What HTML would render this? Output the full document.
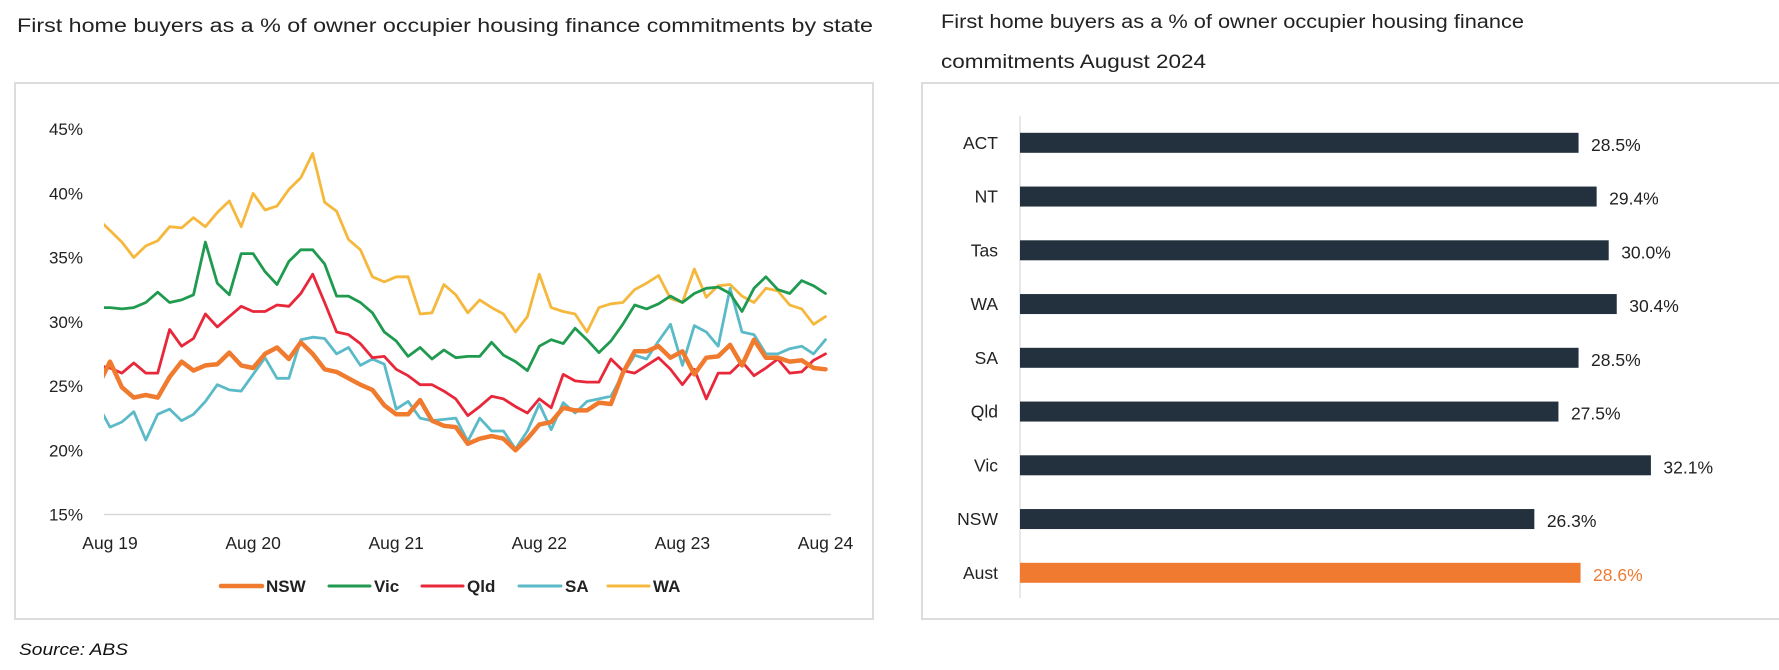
<!DOCTYPE html>
<html><head><meta charset="utf-8"><style>
html,body{margin:0;padding:0;background:#fff;}
svg{display:block;font-family:"Liberation Sans",sans-serif;}
</style></head><body>
<svg id="svg" width="1779" height="670" viewBox="0 0 1779 670">
<text x="17" y="32" font-size="19" fill="#222" textLength="856" lengthAdjust="spacingAndGlyphs">First home buyers as a % of owner occupier housing finance commitments by state</text>
<rect x="15" y="83" width="858" height="536" fill="none" stroke="#dcdcdc" stroke-width="2"/>
<g id="lc"></g>
<text x="19" y="655" font-size="17" font-style="italic" fill="#111" textLength="109" lengthAdjust="spacingAndGlyphs">Source: ABS</text>
<text x="941" y="28" font-size="19" fill="#222" textLength="583" lengthAdjust="spacingAndGlyphs">First home buyers as a % of owner occupier housing finance</text>
<text x="941" y="68" font-size="19" fill="#222" textLength="265" lengthAdjust="spacingAndGlyphs">commitments August 2024</text>
<rect x="922" y="83" width="860" height="536" fill="none" stroke="#dcdcdc" stroke-width="2"/>
<g id="bc"></g>
</svg>
<script>
const months = ["Jul 19"].concat(Array.from({length:61},(_, i)=>"m"+i));
const xTickLabels = ["Aug 19","Aug 20","Aug 21","Aug 22","Aug 23","Aug 24"];
const yTicks = [15,20,25,30,35,40,45];
const nswValues = [25.0,26.9,24.9,24.1,24.3,24.1,25.7,26.9,26.2,26.6,26.7,27.6,26.6,26.4,27.5,28.0,27.1,28.4,27.5,26.3,26.1,25.6,25.1,24.7,23.5,22.8,22.8,23.9,22.3,21.9,21.8,20.5,20.9,21.1,20.9,20.0,20.9,22.0,22.2,23.3,23.1,23.1,23.7,23.6,26.0,27.7,27.7,28.1,27.2,27.7,25.9,27.2,27.3,28.2,26.6,28.6,27.2,27.2,26.9,27.0,26.4,26.3];
const vicValues = [31.1,31.1,31.0,31.1,31.5,32.3,31.5,31.7,32.1,36.2,33.0,32.1,35.3,35.3,33.9,32.9,34.7,35.6,35.6,34.5,32.0,32.0,31.5,30.7,29.2,28.5,27.3,28.0,27.1,27.8,27.2,27.3,27.3,28.4,27.4,26.9,26.2,28.1,28.6,28.3,29.5,28.6,27.6,28.5,29.8,31.3,31.0,31.4,32.0,31.5,32.2,32.6,32.7,32.2,30.8,32.6,33.5,32.5,32.2,33.2,32.8,32.2];
const qldValues = [26.6,26.4,26.0,26.8,26.0,26.0,29.4,28.1,28.7,30.6,29.6,30.4,31.2,30.8,30.8,31.3,31.2,32.2,33.7,31.5,29.2,29.0,28.3,27.2,27.3,26.3,25.8,25.1,25.1,24.6,24.0,22.7,23.4,24.2,24.0,23.4,22.9,24.0,23.3,25.9,25.4,25.3,25.3,27.1,26.2,26.0,26.6,27.2,26.3,25.1,26.3,24.0,26.0,26.0,26.9,25.8,26.4,27.1,26.0,26.1,27.0,27.5];
const saValues = [23.5,21.8,22.2,23.0,20.8,22.8,23.2,22.3,22.8,23.8,25.1,24.7,24.6,25.9,27.2,25.6,25.6,28.6,28.8,28.7,27.5,28.0,26.6,27.1,26.7,23.2,23.8,22.5,22.3,22.4,22.5,20.7,22.5,21.5,21.5,20.1,21.5,23.6,21.6,23.7,22.9,23.8,24.0,24.2,25.9,27.4,27.1,28.5,29.8,26.6,29.7,29.2,28.1,32.6,29.2,29.0,27.5,27.5,27.9,28.1,27.5,28.6];
const waValues = [38.0,37.1,36.2,35.0,35.9,36.3,37.4,37.3,38.1,37.4,38.5,39.4,37.4,40.0,38.7,39.0,40.3,41.2,43.1,39.3,38.6,36.4,35.6,33.5,33.1,33.5,33.5,30.6,30.7,32.9,32.1,30.7,31.7,31.1,30.6,29.2,30.4,33.7,31.1,30.8,30.6,29.2,31.1,31.4,31.5,32.5,33.0,33.6,31.8,31.5,34.1,31.9,32.8,32.9,32.0,31.5,32.6,32.4,31.3,31.0,29.8,30.4];
const seriesNames = ["NSW","Vic","Qld","SA","WA"];
const seriesColors = ["#f07b2f","#1f9a4f","#e8283a","#5bbac8","#f5b83d"];
const seriesWidths = [4.5,2.8,2.8,2.8,2.8];
const allSeries = [nswValues,vicValues,qldValues,saValues,waValues];

const barCategories = ["ACT","NT","Tas","WA","SA","Qld","Vic","NSW","Aust"];
const barValues = [28.5,29.4,30.0,30.4,28.5,27.5,32.1,26.3,28.6];
const barLabels = ["28.5%","29.4%","30.0%","30.4%","28.5%","27.5%","32.1%","26.3%","28.6%"];

const NS="http://www.w3.org/2000/svg";
function mk(tag, attrs, parent){const e=document.createElementNS(NS,tag);for(const k in attrs)e.setAttribute(k,attrs[k]);parent.appendChild(e);return e;}

// line chart
const lc=document.getElementById('lc');
const x0=110, dx=(825.5-110)/60;
const xS=i=>x0+(i-1)*dx; // index 0 = Jul 19
const yS=v=>514.5-(v-15)*(385.5/30);
const base=mk('line',{x1:104,x2:831,y1:yS(15),y2:yS(15),stroke:'#d9d9d9','stroke-width':1.5},lc);


yTicks.forEach(t=>{
  const e=mk('text',{x:83,y:yS(t)+6,'text-anchor':'end','font-size':17,fill:'#222'},lc);
  e.textContent=t+'%';
  
  
});
xTickLabels.forEach((t,k)=>{
  const e=mk('text',{x:xS(1+k*12),y:549,'text-anchor':'middle','font-size':17.5,fill:'#222'},lc);
  e.textContent=t;
  
  
});
const defs=mk('defs',{},lc);
const cp=mk('clipPath',{id:'pc'},defs);
mk('rect',{x:104,y:90,width:730,height:440},cp);
const g=mk('g',{'clip-path':'url(#pc)'},lc);


[4,3,2,1,0].forEach(s=>{
  const d=allSeries[s].map((v,i)=>(i?'L':'M')+xS(i).toFixed(1)+','+yS(v).toFixed(1)).join('');
  const p=mk('path',{d:d,fill:'none',stroke:seriesColors[s],'stroke-width':seriesWidths[s],'stroke-linejoin':'round','stroke-linecap':'round'},g);
  
  
});
const legX=[[221,262,266],[329,370,374],[422,463,467],[519,561,565],[608,649,653]];
seriesNames.forEach((n,s)=>{
  const lg=mk('g',{},lc);
  
  
  mk('line',{x1:legX[s][0],x2:legX[s][1],y1:586,y2:586,stroke:seriesColors[s],'stroke-width':s==0?4.5:3,'stroke-linecap':'round'},lg);
  const t=mk('text',{x:legX[s][2],y:592,'font-size':17,'font-weight':'bold',fill:'#222'},lg);
  t.textContent=n;
});

// bar chart
const bc=document.getElementById('bc');
const bx=v=>1005.7+v*20.1;
const by=i=>142.8+i*53.75;
const ax=mk('line',{x1:1020,x2:1020,y1:116,y2:598,stroke:'#d9d9d9','stroke-width':1.2},bc);


barCategories.forEach((c,i)=>{
  const aus=c==='Aust';
  const r=mk('rect',{x:1020,y:by(i)-10,width:bx(barValues[i])-1020,height:20,fill:aus?'#f07a30':'#22313d'},bc);
  
  
  const l=mk('text',{x:998,y:by(i)+6,'text-anchor':'end','font-size':17.5,fill:'#222'},bc);
  l.textContent=c;
  
  
  const v=mk('text',{x:bx(barValues[i])+12.5,y:by(i)+8,'font-size':17.5,fill:aus?'#f07a30':'#222'},bc);
  v.textContent=barLabels[i];
  
  
});
</script>
</body></html>
